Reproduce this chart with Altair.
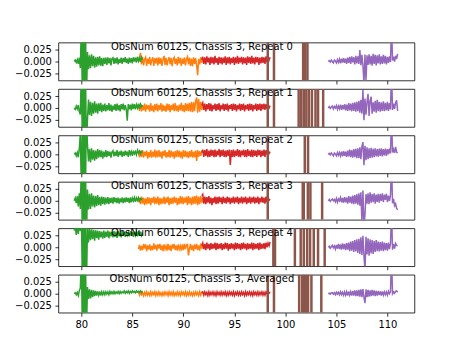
import altair as alt
import pandas as pd

# ---------------- data (values in units of 1e-3) ----------------
titles = [
    "ObsNum 60125, Chassis 3, Repeat 0",
    "ObsNum 60125, Chassis 3, Repeat 1",
    "ObsNum 60125, Chassis 3, Repeat 2",
    "ObsNum 60125, Chassis 3, Repeat 3",
    "ObsNum 60125, Chassis 3, Repeat 4",
    "ObsNum 60125, Chassis 3, Averaged",
]

x_ticks = [80, 85, 90, 95, 100, 105, 110]
y_ticks = [-0.025, 0.0, 0.025]

STEP = 0.1
green_x0 = 79.3
orange_x0 = 85.6
red_x0 = 91.8
purple_x0 = 104.2

green = [
    [0, 3, -2, 4, -5, 8, -14, 80, -80, 80,
     -80, 80, -80, 20, -16, 13, -14, 15, -10, 12,
     -13, 9, -11, 10, -8, 11, -9, 7, -10, 8,
     -5, 8, -7, 9, -4, 7, -8, 6, 8, -5,
     7, -4, 9, -6, 5, -3, 8, -5, 7, -1,
     9, -3, 6, -5, 8, -2, 7, -4, 9, 0,
     8, -2, 10, 1, 7, -1, 9, 4],
    [0, -3, 4, -2, 6, -8, -14, 80, -80, 80,
     -80, 80, -80, -25, 18, -15, 13, -17, 11, -12,
     14, -10, 9, -12, 10, -7, 11, -9, 7, -6,
     9, -7, 6, -5, 10, -6, 7, -8, 5, -4,
     8, -6, 9, -5, 6, -7, 8, -3, 9, -5,
     6, -2, -27, 8, -3, 7, -5, 9, -2, 8,
     -3, 7, 0, 9, -2, 8, 3, 6],
    [0, 3, -3, 4, -6, 12, 45, -80, 80, -80,
     80, -80, 80, 20, -15, 12, -17, 13, -11, 9,
     -13, 8, -10, 11, -7, 9, -6, 8, -9, 6,
     -5, 9, -6, 7, -3, 6, -7, 5, 8, -4,
     6, -3, 9, -5, 6, -2, 8, -5, 6, -3,
     8, -2, 6, -5, 9, 0, 6, -3, 8, 1,
     6, -1, 9, 3, 7, 1, 6, 4],
    [0, 6, -5, 10, -12, 16, -17, 80, -80, 80,
     -80, 80, -80, 24, -18, 15, -17, 16, -12, 11,
     -14, 10, -11, 12, -9, 8, -10, 9, -7, 8,
     -8, 7, -6, 8, -7, 6, -4, 7, -6, 8,
     -3, 6, -5, 7, -6, 5, -3, 7, -5, 6,
     -3, 7, -2, 6, -5, 7, -3, 6, 0, 7,
     -2, 6, 1, 7, 0, 5, 3, 4],
    [35, 44, 26, 47, 28, 52, 34, 80, -80, 80,
     -80, 80, -80, 42, 10, 40, 15, 38, 17, 37,
     14, 36, 19, 35, 16, 34, 21, 33, 18, 35,
     20, 33, 22, 35, 19, 33, 23, 32, 21, 34,
     22, 33, 20, 34, 23, 31, 21, 34, 24, 32,
     22, 33, 25, 31, 23, 34, 24, 32, 22, 33,
     25, 32, 23, 34, 24, 33, 25, 31],
    [0, 2, -2, 3, -4, 6, 12, 80, -80, 80,
     -80, 80, -80, 14, -11, 9, -10, 8, -7, 7,
     -5, 6, -4, 5, -3, 5, -4, 4, -2, 4,
     -2, 4, -1, 4, -2, 5, 0, 4, 0, 5,
     0, 4, 1, 5, 0, 5, 1, 4, 2, 6,
     1, 5, 2, 6, 1, 5, 2, 6, 3, 5,
     2, 6, 3, 5, 3, 6, 3, 5],
]

orange = [
    [3, 9, 18, -6, 10, -8, 5, 9, -9, 6,
     -5, 10, -8, 3, 9, -9, 7, -4, 8, -8,
     9, -5, 7, -9, 4, 12, -7, 8, -8, 3,
     9, -6, 8, -10, 5, 9, -5, 6, -8, 10,
     -4, 8, -9, 6, -5, 9, -8, 5, 10, -6,
     8, -9, 6, -10, 9, -5, 7, -8, -29, 5,
     -6, 9, -3, 6],
    [4, -6, 9, -7, 6, -5, 9, -8, 7, -3,
     6, -8, 10, -6, 5, -9, 8, -5, 9, -7,
     6, -4, 10, -8, 7, -6, 5, -8, 9, -5,
     8, -9, 6, -4, 9, -7, 10, -6, 5, -8,
     7, -5, 11, -7, 6, -9, 10, -6, 9, -7,
     11, -8, 13, -9, 12, -7, 15, 22, -10, 19,
     -8, 13, -4, 7],
    [3, -6, 8, -5, 9, -7, 6, -3, 8, -9,
     5, -6, 9, -7, 6, -5, 10, -7, 8, -6,
     9, -5, 6, -9, 7, -3, 9, -7, 5, -6,
     9, -7, 8, -5, 6, -9, 7, -6, 9, -5,
     8, -7, 6, -9, 9, -5, 8, -6, 6, -8,
     7, -5, 9, -7, 6, -6, 8, -14, 9, -5,
     7, -3, 6, 4],
    [-3, 6, -7, 9, -6, 7, -9, 5, -7, 8,
     -6, 7, -9, 6, -4, 9, -7, 7, -6, 9,
     -9, 6, -7, 5, -6, 9, -7, 7, -4, 9,
     -9, 6, -7, 7, -6, 9, -4, 7, -9, 6,
     -7, 10, -6, 9, -7, 7, -4, 9, -9, 10,
     -6, 7, -9, 9, -7, 10, -6, 11, -9, 9,
     -7, 10, -4, 6],
    [-4, 5, -7, 3, -6, 7, -3, 6, -8, 4,
     -5, 6, -7, 3, -6, 8, -4, 5, -7, 6,
     -3, 7, -6, 4, -8, 6, -4, 3, -7, 7,
     -6, 4, -8, 6, -3, 7, -6, 4, -7, 6,
     -4, 3, -7, 6, -6, 7, -4, 5, 6, -17,
     -3, 7, -6, 4, -8, 6, -4, 7, -6, 4,
     -7, 8, -3, 4],
    [3, -3, 4, -2, 3, -4, 3, -3, 4, -3,
     2, -4, 4, -3, 3, -2, 4, -4, 3, -3,
     4, -3, 2, -4, 3, -3, 4, -2, 3, -4,
     4, -3, 3, -3, 4, -4, 2, -3, 4, -3,
     3, -4, 4, -2, 3, -3, 4, -4, 3, -3,
     4, -3, 2, -4, 3, -3, 4, -2, 3, -4,
     4, -3, 3, 1],
]

red = [
    [4, 10, -5, 9, -6, 11, -2, 8, -7, 10,
     -4, 9, -6, 12, -3, 7, -7, 10, -4, 9,
     -6, 8, -3, 11, -7, 9, -4, 10, -6, 7,
     -3, 10, -7, 9, -4, 12, -5, 8, -2, 10,
     -6, 9, -4, 8, -7, 11, -3, 9, -5, 12,
     -4, 8, -6, 10, -2, 9, -7, 8, -4, 10,
     -3, 9, -5, 11, -2, 8, 3, 9],
    [6, 11, -4, 9, -7, 8, -3, 10, -6, 9,
     -7, 6, -3, 9, -6, 8, -4, 10, -7, 6,
     -3, 9, -6, 8, -4, 9, -7, 6, -2, 8,
     -6, 9, -4, 8, -7, 6, -3, 9, -6, 8,
     -4, 9, -7, 6, -3, 8, -6, 9, -4, 8,
     -7, 6, -3, 9, -6, 8, -4, 9, -6, 8,
     -3, 9, -4, 8, -2, 6, 0, 5],
    [4, 10, -5, 9, -3, 11, -6, 8, -5, 10,
     -3, 9, -6, 10, -5, 8, -2, 11, -6, 9,
     -3, 10, -5, 8, -6, 9, -3, 10, -22, 9,
     -5, 10, -6, 8, -3, 11, -5, 9, -6, 8,
     -2, 10, -5, 9, -6, 11, -3, 8, -5, 10,
     -6, 9, -3, 8, -5, 10, -2, 9, -6, 8,
     -3, 10, -5, 9, 0, 8, 2, 6],
    [11, 14, -6, 9, -7, 8, -4, 10, -6, 7,
     -9, 6, -4, 9, -7, 8, -6, 9, -3, 7,
     -7, 9, -4, 6, -6, 9, -3, 7, -7, 6,
     -4, 9, -6, 7, -3, 9, -7, 6, -4, 9,
     -6, 7, -3, 9, -7, 6, -4, 9, -6, 7,
     -3, 9, -6, 7, -4, 9, -7, 6, -3, 9,
     -4, 7, -6, 9, -3, 6, 1, 4],
    [3, 9, -4, 7, -6, 10, -3, 7, -6, 9,
     -4, 7, -3, 10, -6, 9, -4, 7, -3, 9,
     -6, 7, -4, 10, -3, 9, -7, 7, -4, 9,
     -3, 7, -6, 10, -4, 9, -3, 7, -6, 9,
     -4, 10, -3, 7, -6, 9, -4, 7, -3, 10,
     -6, 9, -4, 7, -3, 9, -6, 10, -4, 7,
     -3, 9, -4, 10, 0, 9, 3, 11],
    [2, 4, -3, 4, -2, 3, -4, 4, -3, 3,
     -2, 4, -3, 3, -4, 4, -2, 3, -3, 4,
     -3, 3, -2, 4, -4, 3, -3, 4, -2, 3,
     -3, 4, -4, 3, -2, 4, -3, 3, -3, 4,
     -2, 3, -4, 4, -3, 3, -2, 4, -3, 3,
     -4, 4, -2, 3, -3, 4, -3, 3, -2, 4,
     -3, 3, -3, 4, 0, 3, 1, 4],
]

purple = [
    [0, 2, -1, 3, 0, -3, 3, 1, -3, 4,
     -2, 5, -4, 6, -2, 7, -3, 6, -5, 8,
     -3, 10, -5, 11, -2, 9, -6, 12, -4, 11,
     -5, 24, -8, 14, -9, -45, 15, -40, 13, -7,
     15, -6, 12, -9, 16, -5, 14, -8, 13, -4,
     15, -6, 11, -5, 14, -4, 12, -6, 10, -3,
     11, -1, 80, 2, 10, 0, 12, 5, 16],
    [0, 3, -1, 2, 4, -2, 3, 0, 5, -3,
     4, -2, 7, -4, 6, -3, 8, -5, 7, -6,
     10, -5, 9, -7, 11, -6, 12, -8, 13, -7,
     15, -10, 17, -12, 38, -26, 20, -14, 13, 30,
     -17, 15, 24, -12, 12, -8, 15, -10, 17, -7,
     13, -8, 12, -6, 14, -7, 11, -5, 13, -6,
     10, -3, 80, -4, 9, -2, 11, 16, -6],
    [0, 2, -1, 3, 0, -3, 3, 1, -3, 4,
     -2, 4, -3, 6, -4, 7, -3, 6, -5, 8,
     -4, 10, -6, 9, -7, 11, -6, 12, -8, 13,
     -8, 15, -10, 17, 26, -23, 18, -12, 15, -10,
     13, -8, 14, -7, 12, -6, 13, -4, 11, -5,
     12, -3, 13, -4, 11, -2, 12, -3, 11, 0,
     12, 2, 80, 4, 11, 3, 16, 5, 3],
    [0, 3, -1, 2, 4, 0, 3, -2, 5, -3,
     4, 0, 7, -3, 6, -4, 8, -3, 7, -6,
     10, -4, 9, -6, 11, -7, 12, -6, 14, -8,
     16, -10, 18, -45, 22, -55, -30, 14, -6, 16,
     -7, 18, -4, 14, -3, 16, -6, 13, -2, 15,
     -4, 14, 0, 16, -3, 13, 2, 15, -3, 11,
     0, 12, 80, -5, 4, -10, -6, -16, -19],
    [0, 2, -2, 1, 4, -1, 3, -4, 5, -3,
     7, -4, 6, -5, 8, -4, 7, -6, 9, -5,
     10, -8, 12, -7, 13, -10, 15, -9, 17, -12,
     18, -14, 21, -16, 24, -18, -50, 22, -15, 19,
     -18, 17, -13, 15, -14, 13, -10, 15, -8, 12,
     -9, 11, -7, 12, -8, 10, -6, 9, -7, 10,
     -4, 7, 80, -5, 7, -3, 8, 4, 3],
    [0, 1, -1, 2, 2, -1, 2, -2, 3, -1,
     3, -2, 4, -2, 3, -3, 4, -3, 4, -4,
     5, -3, 4, -4, 6, -4, 7, -5, 7, -5,
     8, -6, 9, -7, 10, -8, -20, 9, -7, 8,
     -6, 7, -5, 8, -4, 7, -5, 6, -4, 6,
     -3, 5, -4, 5, -3, 4, -2, 4, -3, 5,
     0, 4, 80, 0, 4, 1, 5, 6, 3],
]

brown = [
    [98.27, 98.88, 101.74, 101.94, 102.16],
    [98.27, 98.88, 101.3, 101.55, 101.8, 102.05, 102.3, 102.6, 102.95, 103.2, 103.7],
    [98.27, 101.9, 102.22],
    [98.27, 101.7, 101.8, 102.2, 102.45, 103.6],
    [98.82, 98.98, 100.93, 101.5, 101.8, 102.13, 102.42, 102.78, 103.2, 103.85],
    [98.27, 98.88, 101.35, 101.64, 101.84, 102.03, 102.22, 102.55, 103.52],
]

# ---------------- styling ----------------
X_DOMAIN = [77.75, 112.65]
Y_DOMAIN = [-0.04, 0.04]
W, H = 357.3, 38.06
series_names = ["orange", "green", "red", "purple"]
series_colors = ["#ff7f0e", "#2ca02c", "#d62728", "#9467bd"]
BROWN = "#8c564b"
FONT = "DejaVu Sans"


def panel(i):
    rows = []
    segs = [
        ("orange", orange_x0, orange[i]),
        ("green", green_x0, green[i]),
        ("red", red_x0, red[i]),
        ("purple", purple_x0, purple[i]),
    ]
    for name, x0, vals in segs:
        for k, v in enumerate(vals):
            rows.append({"x": round(x0 + k * STEP, 3), "y": v / 1000.0, "s": name})
    df = pd.DataFrame(rows)
    last = i == len(titles) - 1

    x_enc = alt.X(
        "x:Q",
        scale=alt.Scale(domain=X_DOMAIN, nice=False, zero=False),
        axis=alt.Axis(values=x_ticks, labels=last, ticks=True, title=None,
                      format="d", labelFlush=False),
    )
    y_enc = alt.Y(
        "y:Q",
        scale=alt.Scale(domain=Y_DOMAIN, nice=False, zero=False),
        axis=alt.Axis(values=y_ticks, format=".3f", title=None, labelFlush=False),
    )

    lines = alt.Chart(df).mark_line(strokeWidth=1.5, clip=True).encode(
        x=x_enc,
        y=y_enc,
        color=alt.Color("s:N", scale=alt.Scale(domain=series_names, range=series_colors), legend=None),
    )
    rules = alt.Chart(pd.DataFrame({"x": brown[i]})).mark_rule(
        color=BROWN, strokeWidth=2.5, clip=True
    ).encode(x=alt.X("x:Q"))
    text = alt.Chart(pd.DataFrame({"t": [titles[i]]})).mark_text(
        align="center", baseline="alphabetic", fontSize=10, font=FONT, color="black"
    ).encode(text="t:N", x=alt.value(144), y=alt.value(7.5))
    return alt.layer(lines, rules, text).properties(width=W, height=H)


chart = (
    alt.vconcat(*[panel(i) for i in range(len(titles))], spacing=7.6, bounds="flush")
    .properties(padding={"left": 13.6, "top": 41.1, "right": 45.7, "bottom": 20})
    .configure(font=FONT)
    .configure_view(stroke="black", strokeWidth=0.8)
    .configure_axis(
        labelFont=FONT, labelFontSize=10, labelColor="black",
        tickColor="black", tickWidth=0.8, tickSize=3.5, labelPadding=3.5,
        domain=False, grid=False,
    )
)

chart.save("out.html", embed_options={"renderer": "svg", "actions": False})
